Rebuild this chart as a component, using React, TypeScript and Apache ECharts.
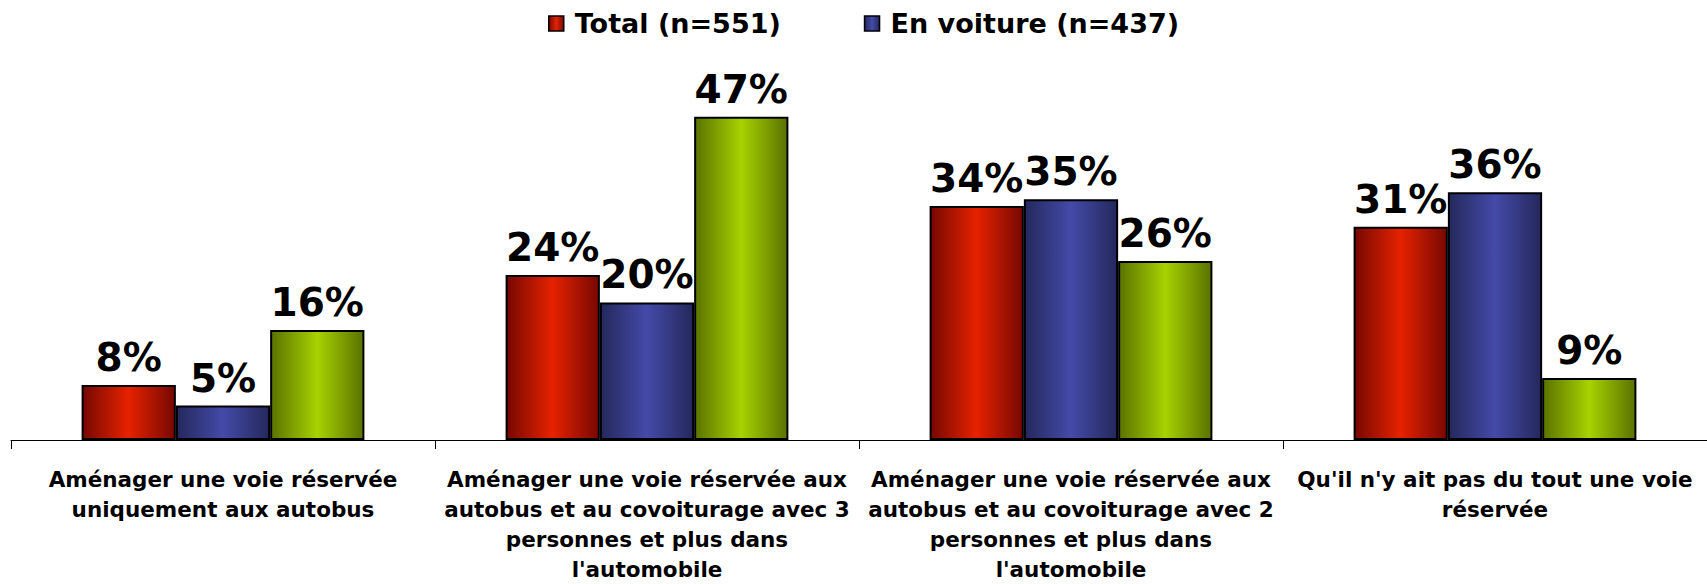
import React, { useEffect, useRef } from "react";
import * as echarts from "echarts";

const categories = [
  "Aménager une voie réservée\nuniquement aux autobus",
  "Aménager une voie réservée aux\nautobus et au covoiturage avec 3\npersonnes et plus dans\nl'automobile",
  "Aménager une voie réservée aux\nautobus et au covoiturage avec 2\npersonnes et plus dans\nl'automobile",
  "Qu'il n'y ait pas du tout une voie\nréservée",
];
const seriesNames = ["Total (n=551)", "En voiture (n=437)", "Autres"];
const totalValues = [8, 24, 34, 31];
const voitureValues = [5, 20, 35, 36];
const autresValues = [16, 47, 26, 9];

const grad = (edge: string, mid: string) =>
  new echarts.graphic.LinearGradient(0, 0, 1, 0, [
    { offset: 0, color: edge },
    { offset: 0.5, color: mid },
    { offset: 1, color: edge },
  ]);

export default function App() {
  const ref = useRef<HTMLDivElement>(null);
  useEffect(() => {
    document.body.style.margin = "0";
    const chart = echarts.init(ref.current!, null, { renderer: "svg" });
    const font = "'DejaVu Sans', Verdana, sans-serif";
    const mk = (name: string, data: number[], edge: string, mid: string) => ({
      name,
      type: "bar",
      data,
      barGap: "0%",
      barCategoryGap: "33.3%",
      itemStyle: { color: grad(edge, mid), borderColor: "#000", borderWidth: 2 },
      label: {
        show: true,
        position: "top",
        distance: 8,
        formatter: "{c}%",
        color: "#000",
        fontFamily: font,
        fontWeight: "bold",
        fontSize: 39,
      },
    });
    chart.setOption({
      animation: false,
      backgroundColor: "#fff",
      legend: {
        data: [seriesNames[0], seriesNames[1]],
        top: 10,
        left: 548,
        padding: 0,
        itemGap: 83,
        itemWidth: 15,
        itemHeight: 15,
        icon: "rect",
        itemStyle: { borderColor: "#000", borderWidth: 1.5 },
        textStyle: {
          color: "#000",
          fontFamily: font,
          fontWeight: "bold",
          fontSize: 27,
          padding: [0, 0, 0, 6],
        },
      },
      grid: { left: 11, right: 0, top: 96, bottom: 143 },
      xAxis: {
        type: "category",
        data: categories,
        axisLine: { lineStyle: { color: "#000", width: 1 } },
        axisTick: { show: true, length: 9, lineStyle: { color: "#000" } },
        axisLabel: {
          interval: 0,
          margin: 24,
          color: "#000",
          fontFamily: font,
          fontWeight: "bold",
          fontSize: 21.5,
          lineHeight: 30,
          align: "center",
        },
      },
      yAxis: {
        type: "value",
        min: 0,
        max: 50,
        show: false,
        splitLine: { show: false },
      },
      series: [
        mk(seriesNames[0], totalValues, "#760800", "#e62200"),
        mk(seriesNames[1], voitureValues, "#24285c", "#444aa8"),
        mk(seriesNames[2], autresValues, "#5a7200", "#a8d200"),
      ],
    });
    return () => chart.dispose();
  }, []);
  return <div ref={ref} style={{ width: 1707, height: 584 }} />;
}
